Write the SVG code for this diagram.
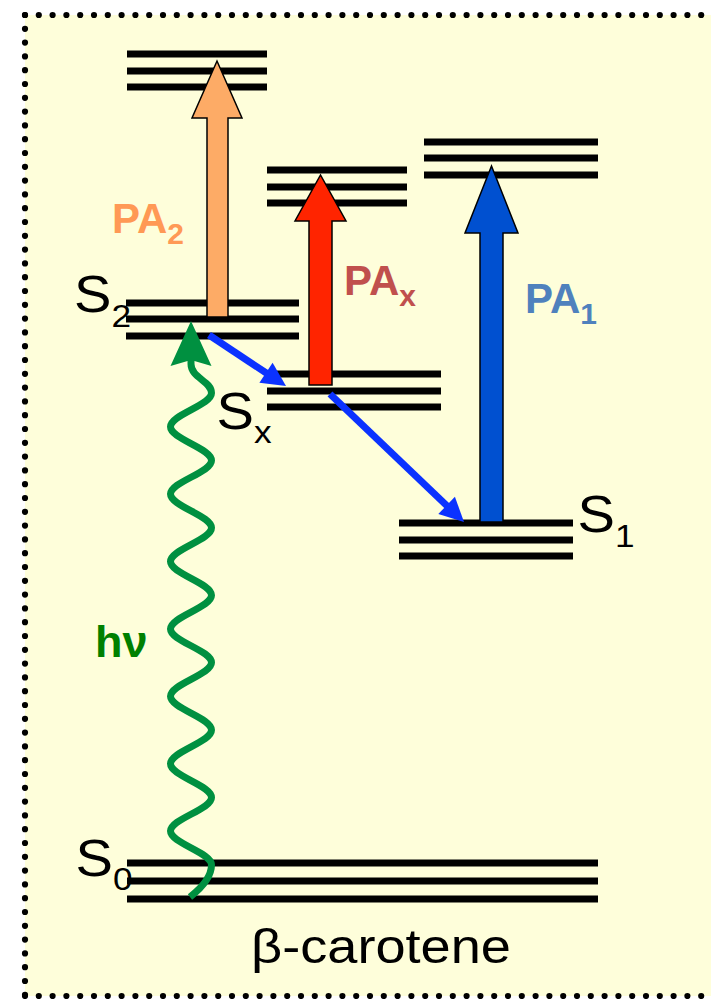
<svg xmlns="http://www.w3.org/2000/svg" width="711" height="999" viewBox="0 0 711 999">
<style>
.lvl line{stroke:#000;stroke-width:7}
.lbl{font-family:"Liberation Sans",Arial,sans-serif;fill:#000}
.pa{font-family:"Liberation Sans",Arial,sans-serif;font-weight:bold}
.big{stroke:#000;stroke-width:1.5;stroke-linejoin:miter}
.blue{stroke:#0B32FF;stroke-width:7;fill:none}
.bhead{fill:#0B32FF}
.border{stroke:#000;stroke-width:6.2;stroke-linecap:round;stroke-dasharray:0 13.8;fill:none}
</style>
<rect x="25" y="15" width="700" height="981" fill="#FEFEDA"/>
<g id="frame">
<path class="border" d="M25,15 H711"/>
<path class="border" d="M25,15 V996"/>
<path class="border" d="M25,996 H711"/>
</g>
<g id="level-S0" class="lvl">
<line x1="127" y1="863" x2="598" y2="863"/><line x1="127" y1="881" x2="598" y2="881"/><line x1="127" y1="899" x2="598" y2="899"/>
</g>
<g id="level-S2" class="lvl">
<line x1="126" y1="303" x2="299" y2="303"/><line x1="126" y1="319" x2="299" y2="319"/><line x1="126" y1="336" x2="299" y2="336"/>
</g>
<g id="level-Sx" class="lvl">
<line x1="267" y1="374" x2="441" y2="374"/><line x1="267" y1="391" x2="441" y2="391"/><line x1="267" y1="407" x2="441" y2="407"/>
</g>
<g id="level-S1" class="lvl">
<line x1="399" y1="523" x2="573" y2="523"/><line x1="399" y1="540" x2="573" y2="540"/><line x1="399" y1="556" x2="573" y2="556"/>
</g>
<g id="level-Sn2" class="lvl">
<line x1="127" y1="54" x2="267" y2="54"/><line x1="127" y1="71" x2="267" y2="71"/><line x1="127" y1="87" x2="267" y2="87"/>
</g>
<g id="level-Snx" class="lvl">
<line x1="267" y1="170" x2="407" y2="170"/><line x1="267" y1="187" x2="407" y2="187"/><line x1="267" y1="203" x2="407" y2="203"/>
</g>
<g id="level-Sn1" class="lvl">
<line x1="424" y1="142" x2="598" y2="142"/><line x1="424" y1="158" x2="598" y2="158"/><line x1="424" y1="175" x2="598" y2="175"/>
</g>
<g id="connectors">
<polygon id="PA2-arrow" class="big" fill="#FDAB66" points="207,317 228,317 228,118 242,118 217,61 192,118 207,118"/>
<polygon id="PAx-arrow" class="big" fill="#FF2400" points="309,385 332,385 332,221 346,221 320.5,175 295,221 309,221"/>
<polygon id="PA1-arrow" class="big" fill="#0050D0" points="480,522 503,522 503,233 518,233 491.5,166 465,233 480,233"/>
<g id="S2-Sx">
<line class="blue" x1="209" y1="335" x2="269.3" y2="375"/>
<polygon class="bhead" points="286,386 259.4,382.8 272.6,362.8"/>
</g>
<g id="Sx-S1">
<line class="blue" x1="330" y1="394" x2="449.5" y2="508.2"/>
<polygon class="bhead" points="464,522 438.3,514.1 454.9,496.7"/>
</g>
<g id="hv-arrow">
<path fill="none" stroke="#009040" stroke-width="7" d="M190,897 C199,890 211.5,878 211.5,864.8 C211.5,852.7 170.5,843.2 170.5,831.1 S211.5,809.5 211.5,797.4 S170.5,775.8 170.5,763.7 S211.5,742.1 211.5,730 S170.5,708.4 170.5,696.3 S211.5,674.7 211.5,662.6 S170.5,641 170.5,628.9 S211.5,607.3 211.5,595.2 S170.5,573.6 170.5,561.5 S211.5,539.9 211.5,527.8 S170.5,506.2 170.5,494.1 S211.5,472.5 211.5,460.4 S170.5,438.8 170.5,426.7 S211.5,405.1 211.5,393 C211.5,380.9 191,378 191,364 L191,352"/>
<polygon fill="#009040" points="191,321 211.5,366 191,360 170.5,366"/>
</g>
</g>
<g id="labels">
<text class="lbl" font-size="51" transform="translate(74,312) scale(1.1,1)">S<tspan font-size="32" dy="15">2</tspan></text>
<text class="lbl" font-size="51" transform="translate(216.5,429) scale(1.1,1)">S<tspan font-size="32" dy="14">x</tspan></text>
<text class="lbl" font-size="51" transform="translate(577.5,532) scale(1.1,1)">S<tspan font-size="32" dy="15">1</tspan></text>
<text class="lbl" font-size="51" transform="translate(75.5,876) scale(1.1,1)">S<tspan font-size="32" dy="14">0</tspan></text>
<text class="pa" fill="#FF9955" font-size="42" x="112" y="233">PA<tspan font-size="30" dy="11">2</tspan></text>
<text class="pa" fill="#C0504D" font-size="42" x="344" y="295">PA<tspan font-size="30" dy="11">x</tspan></text>
<text class="pa" fill="#4F81BD" font-size="42" x="525" y="313">PA<tspan font-size="30" dy="11">1</tspan></text>
<text class="pa" fill="#008000" font-size="45" x="95" y="657">hν</text>
<text class="lbl" font-size="49" x="251" y="963" textLength="260" lengthAdjust="spacingAndGlyphs">β-carotene</text>
</g>
</svg>
